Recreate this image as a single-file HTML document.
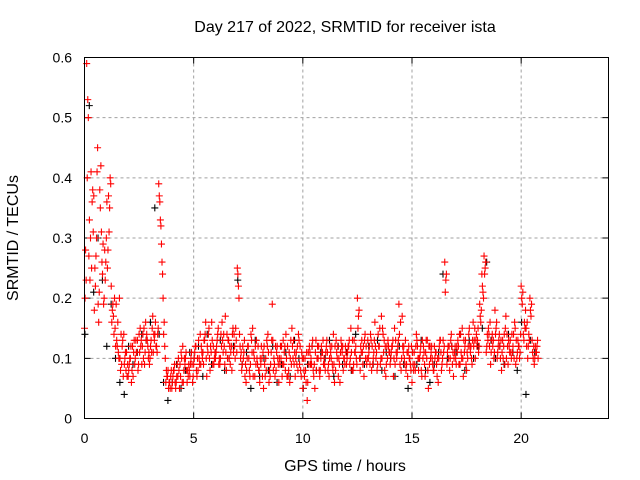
<!DOCTYPE html>
<html><head><meta charset="utf-8"><style>
body{margin:0;background:#fff;}
svg{display:block;font-family:"Liberation Sans",sans-serif;}
</style></head><body>
<svg id="chart" width="640" height="480" viewBox="0 0 640 480">
<rect width="640" height="480" fill="#fff"/>
<text x="345" y="32" font-size="16" text-anchor="middle">Day 217 of 2022, SRMTID for receiver ista</text>
<g id="grid"></g>
<g id="ticks"></g>
<g id="marks"></g>
<rect x="84.5" y="57.5" width="524" height="361" fill="none" stroke="#000" stroke-width="1"/>
<text x="345" y="471" font-size="16" text-anchor="middle">GPS time / hours</text>
<text x="18" y="238" font-size="16" text-anchor="middle" transform="rotate(-90 18 238)">SRMTID / TECUs</text>
</svg>
<script>
const xTicks=[0,5,10,15,20];
const xTickLabels=["0","5","10","15","20"];
const yTicks=[0,0.1,0.2,0.3,0.4,0.5,0.6];
const yTickLabels=["0","0.1","0.2","0.3","0.4","0.5","0.6"];
const stepRed=0.1, offsetRedB=0.05, offsetRedC=0.025, offsetRedD=0.075, stepBlack=0.2, offsetBlack=0.02;
const redA=[.15,.59,.27,.41,.31,.22,.45,.38,.26,.20,
.30,.37,.39,.19,.15,.12,.20,.09,.14,.08,
.07,.10,.12,.09,.11,.14,.13,.10,.16,.12,
.10,.15,.13,.12,.39,.32,.20,.10,.07,.06,
.05,.08,.06,.10,.07,.12,.09,.06,.08,.11,
.09,.12,.08,.14,.10,.13,.07,.15,.11,.12,
.10,.14,.09,.16,.12,.08,.13,.11,.15,.10,
.25,.14,.08,.11,.06,.12,.09,.15,.07,.10,
.08,.12,.05,.10,.14,.07,.19,.09,.11,.06,
.10,.13,.08,.12,.06,.15,.09,.11,.14,.08,
.05,.10,.03,.12,.09,.07,.13,.10,.08,.11,
.09,.13,.07,.10,.14,.08,.12,.06,.11,.10,
.09,.12,.15,.08,.11,.20,.10,.13,.07,.12,
.10,.14,.09,.16,.08,.12,.17,.11,.07,.13,
.09,.12,.15,.10,.19,.08,.11,.13,.07,.10,
.06,.11,.14,.08,.12,.10,.07,.13,.09,.12,
.08,.11,.06,.13,.10,.26,.09,.12,.14,.07,
.10,.13,.09,.15,.11,.08,.14,.12,.16,.10,
.13,.19,.24,.27,.11,.15,.09,.12,.18,.10,
.14,.08,.12,.17,.09,.13,.11,.16,.10,.12,
.22,.14,.18,.10,.20,.13,.09,.11];
const redB=[.28,.53,.23,.36,.18,.30,.16,.42,.29,.23,
.25,.35,.16,.14,.19,.11,.08,.13,.10,.07,
.09,.06,.11,.13,.08,.15,.12,.09,.14,.11,
.13,.11,.16,.14,.36,.26,.16,.08,.05,.07,
.07,.06,.09,.05,.10,.08,.11,.07,.09,.06,
.11,.07,.10,.12,.09,.16,.11,.08,.13,.10,
.12,.09,.14,.11,.17,.10,.12,.08,.14,.13,
.22,.10,.12,.07,.10,.08,.13,.11,.09,.12,
.10,.07,.09,.13,.06,.11,.08,.12,.10,.09,
.07,.11,.10,.08,.13,.10,.07,.12,.09,.11,
.08,.06,.11,.09,.13,.05,.10,.08,.12,.09,
.11,.08,.12,.09,.06,.11,.10,.13,.08,.12,
.11,.09,.08,.13,.10,.17,.12,.09,.14,.10,
.12,.08,.11,.10,.14,.09,.15,.08,.12,.11,
.11,.07,.13,.12,.09,.17,.10,.09,.12,.08,
.09,.08,.12,.10,.07,.11,.13,.05,.10,.09,
.10,.07,.12,.08,.11,.23,.12,.10,.09,.11,
.12,.09,.11,.07,.13,.10,.12,.09,.13,.14,
.11,.16,.21,.25,.14,.12,.13,.10,.15,.12,
.10,.13,.09,.14,.12,.10,.14,.09,.13,.11,
.19,.16,.12,.14,.17,.10,.12,.13];
const redC=[.20,.40,.33,.25,.37,.27,.19,.35,.24,.28,
.36,.31,.22,.17,.12,.16,.10,.12,.09,.11,
.08,.12,.07,.10,.13,.11,.09,.15,.13,.10,
.12,.17,.14,.11,.37,.29,.14,.06,.08,.05,
.06,.09,.07,.08,.11,.06,.10,.08,.07,.09,
.10,.08,.13,.09,.11,.14,.12,.10,.16,.09,
.11,.15,.10,.13,.09,.14,.10,.12,.11,.15,
.24,.12,.09,.13,.08,.10,.14,.07,.12,.09,
.06,.10,.12,.08,.11,.09,.13,.07,.12,.10,
.12,.09,.14,.07,.10,.12,.11,.09,.13,.07,
.10,.08,.06,.11,.12,.09,.08,.12,.10,.13,
.08,.11,.10,.12,.09,.13,.07,.11,.12,.09,
.10,.13,.11,.09,.12,.15,.08,.11,.13,.09,
.11,.13,.10,.12,.09,.15,.10,.13,.09,.12,
.10,.13,.09,.11,.14,.10,.12,.08,.11,.09,
.11,.09,.13,.10,.08,.12,.11,.08,.12,.10,
.12,.09,.10,.11,.13,.21,.11,.08,.12,.10,
.09,.12,.14,.10,.12,.11,.15,.10,.12,.13,
.15,.17,.22,.24,.12,.14,.11,.13,.14,.11,
.12,.11,.14,.10,.13,.11,.12,.15,.11,.10,
.20,.13,.15,.12,.18,.11,.10,.12];
const redD=[.23,.50,.30,.38,.25,.41,.21,.31,.19,.26,
.28,.40,.18,.20,.13,.10,.14,.07,.11,.09,
.10,.08,.13,.11,.09,.12,.14,.11,.13,.09,
.11,.14,.12,.15,.33,.24,.12,.07,.06,.08,
.08,.05,.07,.09,.06,.10,.08,.09,.10,.07,
.12,.10,.09,.11,.13,.10,.14,.12,.09,.11,
.13,.10,.12,.14,.11,.13,.09,.14,.12,.11,
.20,.11,.10,.09,.12,.07,.11,.10,.13,.08,
.09,.11,.07,.12,.08,.13,.10,.08,.09,.12,
.09,.12,.07,.11,.09,.13,.10,.08,.12,.10,
.07,.11,.09,.10,.08,.11,.12,.07,.11,.10,
.12,.09,.11,.08,.12,.10,.09,.12,.10,.11,
.12,.10,.13,.11,.09,.18,.11,.12,.10,.13,
.09,.12,.13,.11,.12,.10,.14,.12,.10,.11,
.12,.10,.11,.13,.16,.12,.09,.11,.10,.12,
.08,.12,.10,.11,.13,.09,.10,.12,.11,.08,
.11,.10,.13,.09,.12,.24,.10,.13,.11,.12,
.11,.14,.10,.13,.09,.12,.11,.13,.15,.12,
.12,.18,.20,.26,.13,.16,.14,.11,.16,.13,
.13,.10,.15,.12,.11,.14,.10,.13,.12,.14,
.21,.15,.16,.13,.19,.12,.11,.10];
const black=[.14,.52,.21,.30,.23,.12,.19,.10,.06,.04,.12,.09,.11,.14,.13,.16,.35,.14,.06,.03,
.06,.09,.05,.08,.11,.10,.12,.07,.14,.09,.11,.13,.08,.10,.12,.23,.09,.11,.05,.13,
.07,.10,.08,.12,.06,.09,.11,.07,.13,.10,.05,.09,.12,.08,.11,.10,.13,.07,.12,.09,
.11,.08,.14,.10,.09,.12,.09,.13,.08,.11,.10,.07,.12,.09,.05,.11,.09,.13,.08,.06,
.09,.11,.24,.10,.12,.11,.14,.08,.13,.10,.12,.15,.26,.13,.10,.12,.09,.14,.11,.08,
.16,.04,.13,.11];
const NS="http://www.w3.org/2000/svg";
const X=t=>84.5+t*(524/24);
const Y=v=>418.5-v*(361/0.6);
const grid=document.getElementById('grid'),ticks=document.getElementById('ticks'),marks=document.getElementById('marks');
function mk(tag,attrs,parent){const e=document.createElementNS(NS,tag);for(const k in attrs)e.setAttribute(k,attrs[k]);parent.appendChild(e);return e;}
xTicks.forEach((t,i)=>{
  const x=X(t);
  if(t>0){const g=mk('line',{x1:x,x2:x,y1:57.5,y2:418.5,stroke:'#a0a0a0','stroke-dasharray':'3,3'},grid);
  
  }
  const tk=mk('path',{d:`M${x},418.5v-6M${x},57.5v6`,stroke:'#000'},ticks);
  
  
  const l=mk('text',{x:x,y:443,'font-size':14,'text-anchor':'middle'},ticks);l.textContent=xTickLabels[i];
  
  
});
yTicks.forEach((v,i)=>{
  const y=Y(v);
  if(v>0&&v<0.6){const g=mk('line',{x1:84.5,x2:608.5,y1:y,y2:y,stroke:'#a0a0a0','stroke-dasharray':'3,3'},grid);
  
  }
  const tk=mk('path',{d:`M84.5,${y}h6M608.5,${y}h-6`,stroke:'#000'},ticks);
  
  
  const l=mk('text',{x:72,y:y+5,'font-size':14,'text-anchor':'end'},ticks);l.textContent=yTickLabels[i];
  
  
});
function plus(t,v,color,name){
  const x=X(t),y=Y(v);
  const p=mk('path',{d:`M${x-3.5},${y}h7M${x},${y-3.5}v7`,stroke:color,'stroke-width':1.1},marks);
  
  
}
black.forEach((v,i)=>plus(offsetBlack+i*stepBlack,v,'#000','black-point'));
redA.forEach((v,i)=>plus(i*stepRed,v,'#f00','red-point'));
redB.forEach((v,i)=>plus(offsetRedB+i*stepRed,v,'#f00','red-point'));
redC.forEach((v,i)=>plus(offsetRedC+i*stepRed,v,'#f00','red-point'));
redD.forEach((v,i)=>plus(offsetRedD+i*stepRed,v,'#f00','red-point'));
</script>
</body></html>
